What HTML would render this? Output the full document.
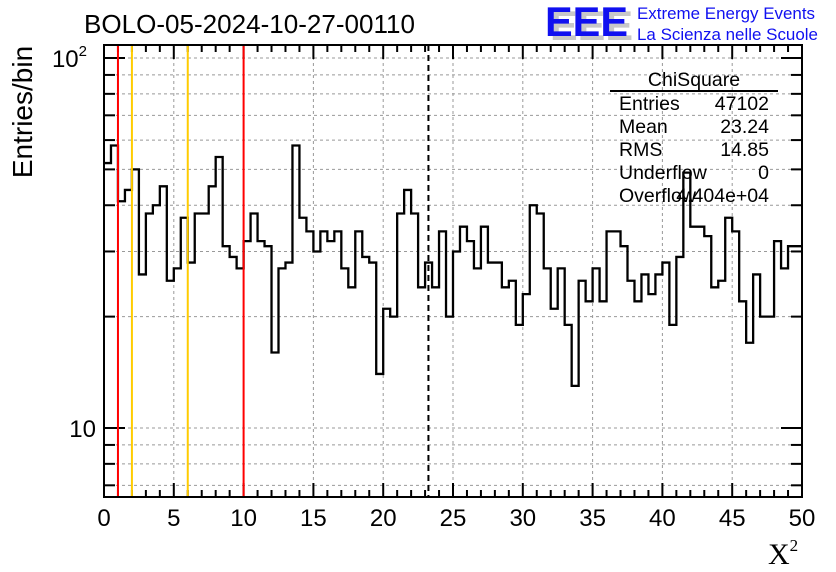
<!DOCTYPE html>
<html><head><meta charset="utf-8"><style>
html,body{margin:0;padding:0;background:#fff;}
svg{display:block;font-family:"Liberation Sans",sans-serif;}
</style></head><body>
<svg id="chart" width="836" height="572" viewBox="0 0 836 572" xmlns="http://www.w3.org/2000/svg">
<rect width="836" height="572" fill="#fff"/>
<g id="grid"></g>
<g id="ticks"></g>
<path id="hist" fill="none" stroke="#000" stroke-width="2.3"/>
<g id="cuts"></g>
<rect x="104" y="45" width="698" height="452" fill="none" stroke="#000" stroke-width="2"/>
<text x="84" y="33" font-size="26" textLength="331" lengthAdjust="spacingAndGlyphs">BOLO-05-2024-10-27-00110</text>
<text transform="translate(32,112) rotate(-90)" text-anchor="middle" font-size="28">Entries/bin</text>
<text x="768" y="564" font-family="Liberation Serif,serif" font-size="30">X<tspan font-size="17" dy="-13">2</tspan></text>
<g>
<text x="550" y="40" font-size="42" font-weight="bold" fill="#c8c8c8" textLength="83" lengthAdjust="spacingAndGlyphs">EEE</text>
<text x="545" y="36" font-size="42" font-weight="bold" fill="#1010f0" textLength="83" lengthAdjust="spacingAndGlyphs">EEE</text>
<text x="637" y="19" font-size="17" fill="#1010f0" textLength="178" lengthAdjust="spacingAndGlyphs">Extreme Energy Events</text>
<text x="637" y="40" font-size="17" fill="#1010f0" textLength="181" lengthAdjust="spacingAndGlyphs">La Scienza nelle Scuole</text>
</g>
<g font-size="19.5">
<text x="694" y="86" text-anchor="middle">ChiSquare</text>
<line x1="610" y1="91" x2="778" y2="91" stroke="#000" stroke-width="2"/>
<text x="619" y="110">Entries</text><text x="769" y="110" text-anchor="end">47102</text>
<text x="619" y="133">Mean</text><text x="769" y="133" text-anchor="end">23.24</text>
<text x="619" y="156">RMS</text><text x="769" y="156" text-anchor="end">14.85</text>
<text x="619" y="179">Underflow</text><text x="769" y="179" text-anchor="end">0</text>
<text x="619" y="202">Overflow</text><text x="769" y="202" text-anchor="end">4.404e+04</text>
</g>
<g id="labels" font-size="24"></g>
</svg>
<script>
const counts=[52,58,41,44,50,26,38,40,45,25,27,37,28,38,38,45,54,31,29,27,32,38,32,31,16,27,28,58,37,34,30,34,32,34,27,24,34,29,28,14,21,20,38,44,38,24,28,24,34,20,30,35,32,27,35,28,28,24,25,19,23,40,38,27,21,27,19,13,25,22,27,22,34,34,31,25,22,26,23,26,28,19,29,49,35,35,33,24,25,37,34,22,17,26,20,20,32,27,31,31];
const xTicks=[0,5,10,15,20,25,30,35,40,45,50];
const yMinor=[7,8,9,20,30,40,50,60,70,80,90];
const cutRed=[1,10];
const cutYellow=[2,6];
const meanVal=23.24;
const X0=104,X1=802,Y0=45,Y1=497;
const xs=v=>X0+(v-0)/(50-0)*(X1-X0);
const ys=v=>428-370*(Math.log10(v)-1);
const NS="http://www.w3.org/2000/svg";
function mk(tag,attrs,parent){const e=document.createElementNS(NS,tag);for(const k in attrs)e.setAttribute(k,attrs[k]);parent.appendChild(e);return e;}
const grid=document.getElementById('grid'),ticks=document.getElementById('ticks'),labels=document.getElementById('labels'),cuts=document.getElementById('cuts');
xTicks.forEach(t=>{
 if(t>0&&t<50){const g=mk('line',{x1:xs(t),x2:xs(t),y1:Y0,y2:Y1,stroke:'#999','stroke-dasharray':'3,3','stroke-width':1},grid);
 
 }
 const l=mk('text',{x:xs(t),y:526,'text-anchor':'middle'},labels);l.textContent=t;
 
 
});
for(let t=0;t<=50;t++){const len=t%5===0?14:7;
 mk('line',{x1:xs(t),x2:xs(t),y1:Y1,y2:Y1-len,stroke:'#000','stroke-width':2},ticks);
 mk('line',{x1:xs(t),x2:xs(t),y1:Y0,y2:Y0+len,stroke:'#000','stroke-width':2},ticks);}
yMinor.forEach(v=>{const y=ys(v);
 const g=mk('line',{x1:X0,x2:X1,y1:y,y2:y,stroke:'#999','stroke-dasharray':'3,3','stroke-width':1},grid);
 
 
 mk('line',{x1:X0,x2:X0+11,y1:y,y2:y,stroke:'#000','stroke-width':2},ticks);
 mk('line',{x1:X1,x2:X1-11,y1:y,y2:y,stroke:'#000','stroke-width':2},ticks);});
[10,100].forEach(v=>{const y=ys(v);
 mk('line',{x1:X0,x2:X0+21,y1:y,y2:y,stroke:'#000','stroke-width':2},ticks);
 mk('line',{x1:X1,x2:X1-21,y1:y,y2:y,stroke:'#000','stroke-width':2},ticks);
 const g=mk('line',{x1:X0,x2:X1,y1:y,y2:y,stroke:'#999','stroke-dasharray':'3,3','stroke-width':1},grid);
 
 });
let l=mk('text',{x:96,y:ys(10)+9,'text-anchor':'end'},labels);l.textContent='10';


l=mk('text',{x:87,y:ys(100)+9,'text-anchor':'end'},labels);l.textContent='10';


const sup=mk('tspan',{'font-size':15,dy:-11},l);sup.textContent='2';
let d='',bw=50/counts.length;
counts.forEach((c,i)=>{const y=ys(c),xa=xs(i*bw),xb=xs((i+1)*bw);d+=(i===0?'M'+xa+','+y:'L'+xa+','+y)+'L'+xb+','+y;});
document.getElementById('hist').setAttribute('d',d);
cutRed.forEach(v=>{const e=mk('line',{x1:xs(v),x2:xs(v),y1:Y0,y2:Y1,stroke:'#f00','stroke-width':2},cuts);
 
 });
cutYellow.forEach(v=>{const e=mk('line',{x1:xs(v),x2:xs(v),y1:Y0,y2:Y1,stroke:'#ffcc00','stroke-width':2},cuts);
 
 });
const m=mk('line',{x1:xs(meanVal),x2:xs(meanVal),y1:Y0,y2:Y1,stroke:'#000','stroke-width':2,'stroke-dasharray':'6,4'},cuts);


</script>
</body></html>
